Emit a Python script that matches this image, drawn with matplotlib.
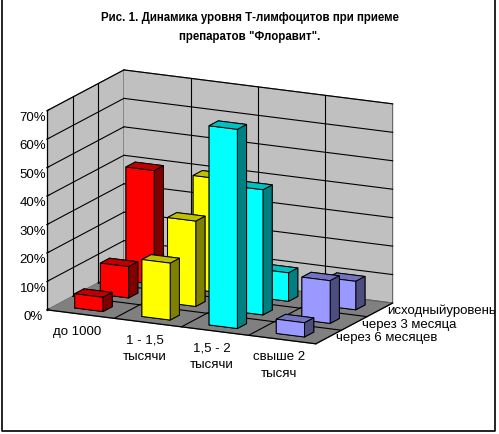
import matplotlib
matplotlib.use('Agg')
import matplotlib.pyplot as plt
import numpy as np
from matplotlib.lines import Line2D

# ---- data ----
categories = ["до 1000", "1 - 1,5\nтысячи", "1,5 - 2\nтысячи", "свыше 2\nтысяч"]
series = ["через 6 месяцев", "через 3 месяца", "исходныйуровень"]  # front -> back
v_6m = [5, 20, 70, 5]
v_3m = [11, 30, 44, 15]
v_base = [40, 40, 10, 10]
z_ticks = [0, 10, 20, 30, 40, 50, 60, 70]
z_ticklabels = ["0%", "10%", "20%", "30%", "40%", "50%", "60%", "70%"]
front_colors = ['#FF0000', '#FFFF00', '#00FFFF', '#9999FF']
top_colors = ['#C00000', '#C0C000', '#00C0C0', '#7373C0']
side_colors = ['#800000', '#808000', '#008080', '#4D4D80']
title = 'Рис. 1. Динамика уровня Т-лимфоцитов при приеме\nпрепаратов "Флоравит".'

plt.rcParams['font.family'] = ['Liberation Sans', 'DejaVu Sans']
plt.rcParams['font.size'] = 9

fig = plt.figure(figsize=(4.99, 4.35), dpi=100)
fig.patch.set_facecolor('white')
ax = fig.add_axes([-0.02, 0.06, 0.9, 0.9], projection='3d', computed_zorder=False)
ax.set_proj_type('ortho')
ax.view_init(elev=15, azim=-64)

ncat = len(categories)
nser = len(series)
values = [v_6m, v_3m, v_base]
w, d = 0.42, 0.36

xs, ys, dzs, fcs = [], [], [], []
for j, vals in enumerate(values):
    for i, v in enumerate(vals):
        xs.append(i + (1 - w) / 2)
        ys.append(j + (1 - d) / 2)
        dzs.append(v)
        # face order: -z, +z, -y, +y, -x, +x
        fcs += [side_colors[i], top_colors[i], front_colors[i],
                front_colors[i], front_colors[i], side_colors[i]]

ax.bar3d(xs, ys, np.zeros(len(xs)), w, d, dzs, color=fcs, shade=False,
         edgecolor='black', linewidth=0.7, zorder=3)

zmax = z_ticks[-1]
ax.set_xlim(0, ncat)
ax.set_ylim(0, nser)
ax.set_zlim(0, zmax)
ax.set_box_aspect((290, 170, 200), zoom=1.0)

for axis, col in ((ax.xaxis, '#C0C0C0'), (ax.yaxis, '#C0C0C0'), (ax.zaxis, '#808080')):
    axis.set_pane_color(col)
    axis.pane.set_edgecolor('#606060')
    axis.pane.set_linewidth(0.8)
    axis.line.set_color('black')
    axis.line.set_linewidth(0.9)

ax.grid(False)
gl = dict(color='black', lw=0.8, zorder=1)
for z in z_ticks[1:]:
    ax.plot([0, ncat], [nser, nser], [z, z], **gl)
    ax.plot([0, 0], [0, nser], [z, z], **gl)
for x in range(1, ncat):
    ax.plot([x, x], [nser, nser], [0, zmax], **gl)
    ax.plot([x, x], [0, nser], [0, 0], **gl)
for y in range(1, nser):
    ax.plot([0, 0], [y, y], [0, zmax], **gl)
    ax.plot([0, ncat], [y, y], [0, 0], **gl)

ax.set_xticks(np.arange(ncat) + 0.5)
ax.set_xticklabels(categories, fontsize=9.5, linespacing=1.5)
ax.set_yticks(np.arange(nser) + 0.5)
ax.set_yticklabels(series, fontsize=9.5, ha='left', va='bottom')
ax.set_zticks(z_ticks)
ax.set_zticklabels(z_ticklabels, fontsize=9.5)
ax.zaxis.set_ticks_position('lower')
ax.zaxis.set_tick_params(pad=-2)
ax.xaxis.set_tick_params(pad=-1.5)
ax.yaxis.set_tick_params(pad=-4)
for axis in (ax.xaxis, ax.yaxis):
    axis._axinfo['tick']['inward_factor'] = 0
    axis._axinfo['tick']['outward_factor'] = 0
ax.zaxis._axinfo['tick']['inward_factor'] = 0
ax.zaxis._axinfo['tick']['outward_factor'] = 0.3

fig.text(0.5, 1 - 12 / 435, title, ha='center', va='top', fontsize=8.3,
         fontweight='bold', linespacing=1.75)

# chart area border
fig.add_artist(Line2D([0.004, 0.004, 0.992, 0.992], [1.0, 0.007, 0.007, 1.0],
                      transform=fig.transFigure, color='black', lw=1.2))

fig.savefig('out.png', dpi=100, facecolor='white')
